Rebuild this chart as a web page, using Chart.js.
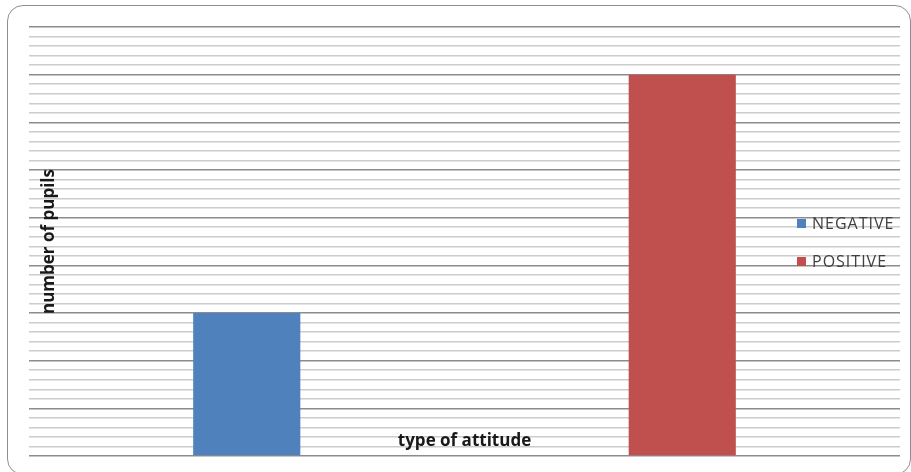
<!DOCTYPE html>
<html>
<head>
<meta charset="utf-8">
<script src="https://cdn.jsdelivr.net/npm/chart.js@4"></script>
<style>
  body { margin: 0; background: #fff; }
  #wrap { position: relative; width: 911px; height: 472px; overflow: hidden; }
  #frame { position: absolute; left: 7px; top: 5px; width: 902px; height: 468px;
           border: 1.5px solid #8f8f8f; border-radius: 16px; }
  #myChart { position: absolute; left: 0; top: 0; }
  .leyenda { position: absolute; left: 797px; font: 16px "Open Sans", sans-serif; letter-spacing: 1px;
             color: #404040; line-height: 18px; }
  .leyenda span { display: inline-block; width: 9px; height: 9px; margin-right: 6px; vertical-align: 1px; }
</style>
</head>
<body>
<div id="wrap">
  <div id="frame"></div>
  <canvas id="myChart" width="911" height="472"></canvas>
  <div class="leyenda" style="top:214px"><span style="background:#4f81bd"></span>NEGATIVE</div>
  <div class="leyenda" style="top:252px"><span style="background:#c0504d"></span>POSITIVE</div>
</div>
<script>
const chart = document.getElementById('myChart');

const categorias = ['NEGATIVE', 'POSITIVE'];
const negativos = [30, null];
const positivos = [null, 80];
const tituloX = 'type of attitude';
const tituloY = 'number of pupils';

// titulos de ejes dibujados dentro del area, como en el original
const titulosEjes = {
    id: 'titulosEjes',
    afterDatasetsDraw(c) {
        const { ctx, chartArea } = c;
        ctx.save();
        ctx.fillStyle = '#1a1a1a';
        ctx.font = 'bold 17px "Open Sans", sans-serif';
        ctx.textAlign = 'center';
        ctx.textBaseline = 'middle';
        ctx.fillText(tituloX, (chartArea.left + chartArea.right) / 2, chartArea.bottom - 15);
        ctx.translate(chartArea.left + 20, (chartArea.top + chartArea.bottom) / 2);
        ctx.rotate(-Math.PI / 2);
        ctx.fillText(tituloY, 0, 0);
        ctx.restore();
    }
};

const datasets = [
    { label: 'NEGATIVE', data: negativos, backgroundColor: '#4f81bd' },
    { label: 'POSITIVE', data: positivos, backgroundColor: '#c0504d' }
];

const config = {
    type: 'bar',
    data: { labels: categorias, datasets },
    options: {
        responsive: false,
        animation: false,
        layout: { padding: { left: 29, right: 11, top: 27, bottom: 8 } },
        datasets: { bar: { grouped: false, categoryPercentage: 1, barPercentage: 0.246 } },
        plugins: { legend: { display: false }, tooltip: { enabled: false } },
        scales: {
            x: {
                ticks: { display: false },
                grid: { display: false },
                border: { display: false }
            },
            y: {
                min: 0,
                max: 90,
                ticks: { display: false, stepSize: 2 },
                border: { display: false },
                grid: {
                    drawTicks: false,
                    lineWidth: 1.5,
                    color: (ctx) => ctx.tick && ctx.tick.value % 10 === 0 ? '#8c8c8c' : '#cccccc'
                }
            }
        }
    },
    plugins: [titulosEjes]
};

const myChart = new Chart(chart, config);
</script>
</body>
</html>
